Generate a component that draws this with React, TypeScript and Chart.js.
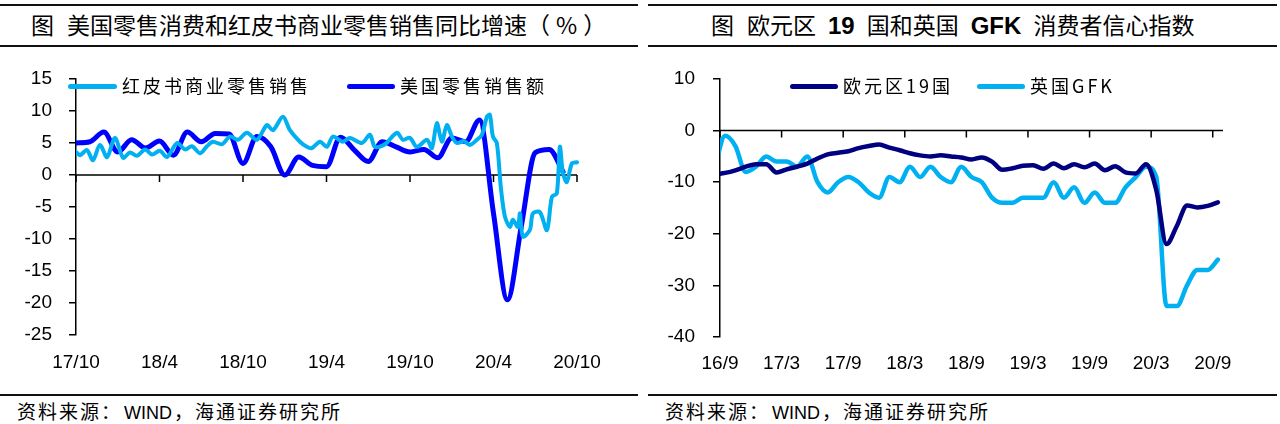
import React, { useEffect, useRef } from "react";
import { Chart, registerables } from "chart.js";

Chart.register(...registerables);

// ---------- Left chart data (x = months since 17/10) ----------
const leftTickValues = [0, 6, 12, 18, 24, 30, 36];
const leftTickLabels = ["17/10", "18/4", "18/10", "19/4", "19/10", "20/4", "20/10"];

// 美国零售销售额 (monthly, index = months since 17/10)
const usRetailYoY = [
  5.0, 5.2, 6.7, 3.6, 5.5, 4.2, 5.3, 3.1, 6.7, 5.2, 6.5, 6.4, 1.8, 6.0, 4.4, 0.0,
  2.8, 1.5, 1.3, 5.9, 3.9, 2.1, 5.2, 4.4, 3.6, 4.0, 2.7, 5.8, 5.2, 8.6, -6.0, -19.5,
  -8.0, 3.5, 4.0, 0.5,
];

// 红皮书商业零售销售 (weekly, sampled; months since 17/10)
const redbookMonths = [
  0, 0.29, 0.79, 1.22, 1.72, 2.23, 2.8, 3.38, 3.88, 4.38, 4.96, 5.46, 6.03, 6.54, 7.26,
  7.83, 8.33, 8.91, 9.41, 9.84, 10.49, 11.06, 11.64, 12.28, 13.0, 13.72, 14.15, 14.87,
  15.37, 16.09, 16.59, 16.95, 17.53, 18.03, 18.46, 19.18, 19.68, 20.55, 21.12, 21.48,
  22.2, 23.06, 23.49, 23.99, 24.5, 25.22, 25.57, 25.93, 26.29, 26.65, 27.01, 27.37,
  27.87, 28.3, 28.81, 29.17, 29.53, 29.74, 29.96, 30.24, 30.53, 30.82, 31.18, 31.39,
  31.75, 31.9, 32.11, 32.61, 32.83, 33.33, 33.84, 34.2, 34.55, 34.77, 34.99, 35.27,
  35.63, 36.0,
];
const redbookYoY = [
  3.6, 3.1, 3.9, 2.3, 4.7, 2.8, 5.8, 2.7, 3.5, 3.0, 4.0, 3.2, 3.8, 2.8, 5.0, 4.0, 4.5,
  3.4, 4.5, 5.2, 4.8, 6.0, 5.5, 6.6, 5.5, 7.8, 7.0, 9.1, 7.0, 5.2, 4.4, 4.2, 5.2, 4.4,
  6.0, 5.2, 5.8, 5.0, 6.3, 4.4, 4.8, 6.6, 5.5, 5.8, 4.4, 5.5, 4.2, 8.1, 5.2, 7.8, 6.0,
  5.0, 5.3, 4.7, 5.5, 6.3, 9.1, 9.4, 6.0, 5.0, -2.0, -6.5, -8.1, -7.0, -8.1, -6.0, -9.6,
  -8.6, -6.0, -5.8, -8.6, -3.4, -2.9, 4.4, 0.3, -1.1, 1.8, 2.0,
];

// ---------- Right chart data (monthly from 2016/08, plotted mid-month) ----------
const rightTickValues = [0, 6, 12, 18, 24, 30, 36, 42, 48];
const rightTickLabels = ["16/9", "17/3", "17/9", "18/3", "18/9", "19/3", "19/9", "20/3", "20/9"];

const euroConfidence = [
  -8.5, -8.2, -7.7, -7.0, -6.5, -6.5, -8.1, -7.5, -7.0, -6.4, -5.4, -4.6, -4.3, -4.0,
  -3.4, -3.0, -2.7, -3.3, -3.8, -4.4, -4.8, -5.0, -4.8, -5.0, -5.2, -5.6, -5.2, -6.0,
  -7.6, -7.3, -6.8, -6.7, -7.4, -6.4, -7.3, -6.5, -7.1, -6.4, -7.7, -6.9, -8.1, -8.3,
  -6.5, -11.5, -22.0, -18.5, -14.5, -14.9, -14.6, -13.9,
];
const ukGfk = [
  -7, -1, -3, -8, -7, -5, -6, -6, -7, -5, -10, -12, -10, -9, -10, -12, -13, -9, -10, -7,
  -9, -7, -9, -10, -7, -9, -10, -13, -14, -14, -13, -13, -13, -10, -13, -11, -14, -12,
  -14, -14, -11, -9, -7, -9, -34, -34, -30, -27, -27, -25,
];

const LIGHT_BLUE = "#00B0F0";
const PURE_BLUE = "#0000FF";
const NAVY = "#000080";
const CJK = '"Noto Sans CJK SC", "Noto Sans", sans-serif';
const LATIN = '"Liberation Sans", Arial, sans-serif';

const zeroAxisPlugin = {
  id: "zeroAxis",
  beforeDatasetsDraw(chart: any) {
    const { ctx, chartArea, scales } = chart;
    const y0 = scales.y.getPixelForValue(0);
    ctx.save();
    ctx.strokeStyle = "#000";
    ctx.lineWidth = 1.5;
    ctx.beginPath();
    ctx.moveTo(chartArea.left, y0);
    ctx.lineTo(chartArea.right, y0);
    scales.x.ticks.forEach((t: any) => {
      const x = scales.x.getPixelForValue(t.value);
      ctx.moveTo(x, y0);
      ctx.lineTo(x, y0 + 7);
    });
    ctx.stroke();
    ctx.restore();
  },
};

type PanelProps = {
  datasets: any[];
  xMin: number;
  xMax: number;
  xTicks: number[];
  xLabels: string[];
  yMin: number;
  yMax: number;
  yStep: number;
  padTop: number;
  padRight: number;
  yAxisWidth: number;
  xAxisHeight: number;
  xLabelPad: number;
  yLabelPad: number;
};

function LinePanel(p: PanelProps) {
  const ref = useRef<HTMLCanvasElement>(null);
  useEffect(() => {
    const font = { family: LATIN, size: 19 };
    const chart = new Chart(ref.current as HTMLCanvasElement, {
      type: "line",
      data: { datasets: p.datasets },
      options: {
        animation: false,
        responsive: false,
        maintainAspectRatio: false,
        devicePixelRatio: 1,
        events: [],
        layout: { padding: { top: p.padTop, right: p.padRight, left: 0, bottom: 0 } },
        plugins: {
          legend: { display: false },
          tooltip: { enabled: false },
          title: { display: false },
        },
        elements: { point: { radius: 0 } },
        scales: {
          x: {
            type: "linear",
            min: p.xMin,
            max: p.xMax,
            afterBuildTicks: (s: any) => {
              s.ticks = p.xTicks.map((v) => ({ value: v }));
            },
            afterFit: (s: any) => {
              s.height = p.xAxisHeight;
              s.paddingLeft = 0;
              s.paddingRight = 0;
            },
            grid: { display: false, drawTicks: false },
            border: { display: false },
            ticks: {
              autoSkip: false,
              maxRotation: 0,
              padding: p.xLabelPad,
              font,
              color: "#000",
              callback: (_v: any, i: number) => p.xLabels[i],
            },
          },
          y: {
            type: "linear",
            min: p.yMin,
            max: p.yMax,
            afterFit: (s: any) => {
              s.width = p.yAxisWidth;
              s.paddingTop = 0;
              s.paddingBottom = 0;
            },
            ticks: { stepSize: p.yStep, padding: p.yLabelPad, font, color: "#000" },
            grid: {
              drawOnChartArea: false,
              drawTicks: true,
              tickLength: 7,
              color: "#000",
              lineWidth: 1.5,
            },
            border: { display: true, color: "#000", width: 1.5 },
          },
        },
      } as any,
      plugins: [zeroAxisPlugin],
    });
    return () => chart.destroy();
  }, []);
  return <canvas ref={ref} width={640} height={320} style={{ width: 640, height: 320, display: "block" }} />;
}

function Rule({ left, width, top }: { left: number; width: number; top: number }) {
  return <div style={{ position: "absolute", left, width, top, height: 2, background: "#111" }} />;
}

function LegendItem({ x, y, color, label, lineW }: { x: number; y: number; color: string; label: string; lineW: number }) {
  return (
    <>
      <div style={{ position: "absolute", left: x, top: y - 2.5, width: lineW, height: 5, borderRadius: 2.5, background: color }} />
      <div
        style={{
          position: "absolute",
          left: x + lineW + 5,
          top: y - 10,
          fontFamily: CJK,
          fontSize: 18,
          lineHeight: "18px",
          letterSpacing: 3,
          whiteSpace: "nowrap",
          color: "#000",
        }}
      >
        {label}
      </div>
    </>
  );
}

function Source({ left }: { left: number }) {
  return (
    <div
      style={{
        position: "absolute",
        left,
        top: 401,
        fontFamily: CJK,
        fontSize: 19,
        lineHeight: "19px",
        letterSpacing: 2,
        whiteSpace: "nowrap",
        color: "#000",
      }}
    >
      <span>资料来源：</span>
      <span style={{ fontFamily: LATIN, fontSize: 18, letterSpacing: 0, marginLeft: 2 }}>WIND</span>
      <span style={{ marginLeft: 2 }}>，海通证券研究所</span>
    </div>
  );
}

export default function App() {
  const leftDatasets = [
    {
      label: "红皮书商业零售销售",
      data: redbookMonths.map((m, i) => ({ x: m, y: redbookYoY[i] })),
      borderColor: LIGHT_BLUE,
      borderWidth: 4,
      tension: 0.3,
      borderCapStyle: "round",
      borderJoinStyle: "round",
      clip: { left: 0, right: false, top: false, bottom: false },
    },
    {
      label: "美国零售销售额",
      data: usRetailYoY.map((v, i) => ({ x: i, y: v })),
      borderColor: PURE_BLUE,
      borderWidth: 5,
      cubicInterpolationMode: "monotone",
      borderCapStyle: "round",
      borderJoinStyle: "round",
    },
  ];
  const rightDatasets = [
    {
      label: "欧元区19国",
      data: euroConfidence.map((v, i) => ({ x: i - 0.5, y: v })),
      borderColor: NAVY,
      borderWidth: 4.5,
      cubicInterpolationMode: "monotone",
      borderCapStyle: "round",
      borderJoinStyle: "round",
      clip: { left: 0, right: false, top: false, bottom: false },
    },
    {
      label: "英国GFK",
      data: ukGfk.map((v, i) => ({ x: i - 0.5, y: v })),
      borderColor: LIGHT_BLUE,
      borderWidth: 4.5,
      cubicInterpolationMode: "monotone",
      borderCapStyle: "round",
      borderJoinStyle: "round",
      clip: { left: 0, right: false, top: false, bottom: false },
    },
  ];

  const titleStyle: React.CSSProperties = {
    position: "absolute",
    top: 13,
    fontFamily: CJK,
    fontSize: 23,
    lineHeight: "23px",
    whiteSpace: "nowrap",
    color: "#000",
  };
  const bold: React.CSSProperties = { fontFamily: LATIN, fontWeight: "bold", fontSize: 24, margin: "0 12px" };

  return (
    <div style={{ position: "absolute", left: 0, top: 0, width: 1280, height: 424, background: "#fff", overflow: "hidden" }}>
      {/* Left panel */}
      <Rule left={0} width={638} top={4} />
      <div style={{ ...titleStyle, left: 31 }}>
        <span>图</span>
        <span style={{ marginLeft: 13 }}>美国零售消费和红皮书商业零售销售同比增速（</span>
        <span style={{ margin: "0 6px" }}>%</span>
        <span>）</span>
      </div>
      <Rule left={0} width={638} top={45} />
      <div style={{ position: "absolute", left: 0, top: 60 }}>
        <LinePanel
          datasets={leftDatasets}
          xMin={0}
          xMax={36}
          xTicks={leftTickValues}
          xLabels={leftTickLabels}
          yMin={-25}
          yMax={15}
          yStep={5}
          padTop={19}
          padRight={63}
          yAxisWidth={76}
          xAxisHeight={45}
          xLabelPad={16}
          yLabelPad={17}
        />
      </div>
      <LegendItem x={68} y={86} color={LIGHT_BLUE} label="红皮书商业零售销售" lineW={49} />
      <LegendItem x={347} y={86} color={PURE_BLUE} label="美国零售销售额" lineW={48} />
      <Rule left={0} width={638} top={394} />
      <Source left={17} />

      {/* Right panel */}
      <Rule left={648} width={629} top={4} />
      <div style={{ ...titleStyle, left: 711 }}>
        <span>图</span>
        <span style={{ marginLeft: 13 }}>
          欧元区<span style={bold}>19</span>国和英国<span style={bold}>GFK</span>消费者信心指数
        </span>
      </div>
      <Rule left={648} width={629} top={45} />
      <div style={{ position: "absolute", left: 640, top: 60 }}>
        <LinePanel
          datasets={rightDatasets}
          xMin={0}
          xMax={49}
          xTicks={rightTickValues}
          xLabels={rightTickLabels}
          yMin={-40}
          yMax={10}
          yStep={10}
          padTop={19}
          padRight={57}
          yAxisWidth={80}
          xAxisHeight={43}
          xLabelPad={15}
          yLabelPad={18}
        />
      </div>
      <LegendItem x={790} y={86} color={NAVY} label="欧元区19国" lineW={48} />
      <LegendItem x={977} y={86} color={LIGHT_BLUE} label="英国GFK" lineW={48} />
      <Rule left={648} width={629} top={394} />
      <Source left={665} />
    </div>
  );
}
